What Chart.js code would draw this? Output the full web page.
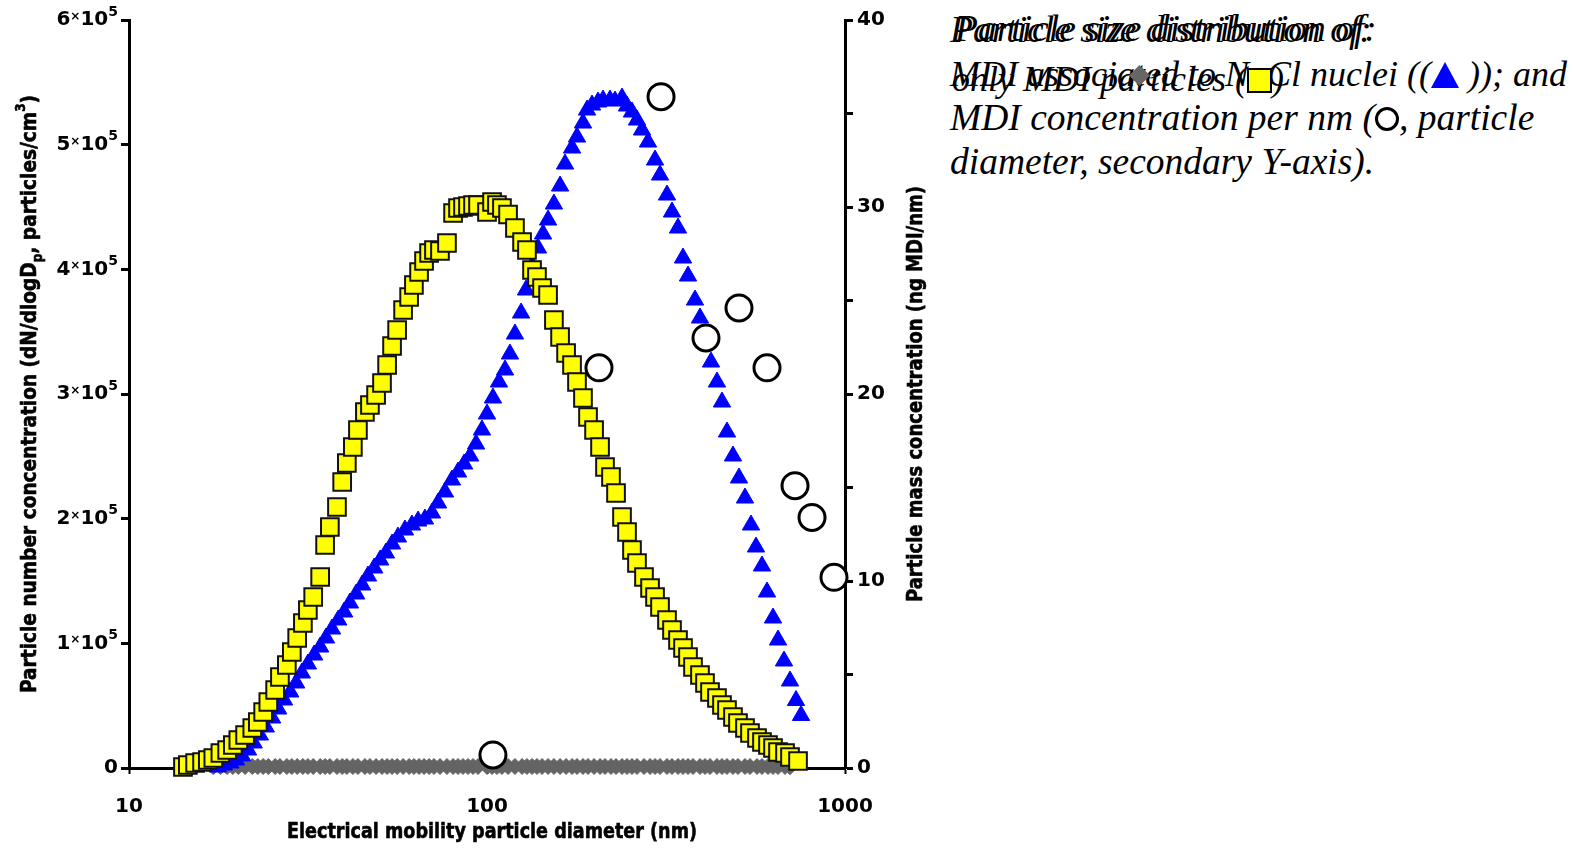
<!DOCTYPE html>
<html>
<head>
<meta charset="utf-8">
<script src="https://cdn.jsdelivr.net/npm/chart.js@4.4.1/dist/chart.umd.min.js"></script>
<style>
    body { margin: 0; background: #fff; width: 1573px; height: 849px; overflow: hidden; position: relative; }
    #wrap { position: absolute; left: 0; top: 0; width: 940px; height: 849px; }
    #caption {
        position: absolute; left: 950px; top: 8px;
        font-family: "Liberation Serif", "Times New Roman", serif;
        font-style: italic; font-size: 37.5px; line-height: 44px;
        color: #000; white-space: nowrap;
    }
    .line { position: relative; height: 44px; }
    .over { position: absolute; left: 0; top: 0; }
    .tri { display: inline-block; width: 0; height: 0; border-left: 14px solid transparent; border-right: 14px solid transparent; border-bottom: 26px solid #0000ff; vertical-align: -2px; }
    .sq { display: inline-block; width: 21px; height: 21px; background: #ffff00; border: 2px solid #000; vertical-align: -2px; }
    .circ { display: inline-block; width: 18px; height: 18px; border: 3px solid #000; border-radius: 50%; vertical-align: -1px; }
    .dia { position: absolute; width: 15px; height: 15px; background: #666; transform: rotate(45deg); }
</style>
</head>
<body>
<div id="wrap"><canvas id="psdChart" width="940" height="849"></canvas></div>

<div id="caption">
    <div class="line">
        <span class="over">Particle size distribution of:</span>
        <span class="over" style="left:5px; top:-1px;">Particle size distribution of:</span>
    </div>
    <div class="line" style="font-size:36px;">
        <span class="over">MDI associated to NaCl nuclei ((<span class="tri"></span> )); and</span>
        <span class="over" style="left:2px; top:5px;">only MDI particles (<span class="sq"></span>)</span>
        <span class="dia" style="left:182px; top:16px;"></span>
    </div>
    <div class="line">MDI concentration per nm (<span class="circ"></span>, particle</div>
    <div class="line">diameter, secondary Y-axis).</div>
</div>

<script>
// diameters (nm) of the SMPS channels
const onlyMdiDiam = [
    14.15, 14.6, 15.3, 16.0, 16.6, 17.2, 18.0, 18.8, 19.5, 20.2,
    21.1, 22.1, 22.9, 23.7, 24.5, 25.6, 26.4, 27.6, 28.5, 29.5,
    30.6, 31.6, 32.7, 34.2, 35.3, 36.4, 38.1, 39.4, 40.6, 42.2,
    43.6, 45.6, 47.1, 49.0, 50.9, 52.6, 54.3, 56.1, 58.3, 60.6,
    62.5, 64.6, 66.7, 68.9, 71.1, 73.9, 77.3, 80.4, 83.0, 85.7,
    88.5, 91.4, 94.4, 100.0, 103.3, 106.6, 110.1, 114.5, 119.7, 125.3,
    129.3, 133.6, 137.9, 142.5, 148.1, 153.8, 160.0, 166.3, 172.8, 178.4,
    185.4, 191.5, 199.1, 206.9, 213.6, 222.0, 229.3, 238.3, 246.1, 254.1,
    262.4, 274.5, 285.4, 294.7, 304.3, 318.3, 328.7, 341.6, 352.8, 364.3,
    376.2, 393.5, 406.4, 419.7, 438.9, 453.3, 468.1, 486.5, 502.4, 525.6,
    542.8, 567.8, 586.3, 609.4, 629.4, 650.0, 679.9, 702.1, 739.2
];
// only MDI particles, dN/dlogDp (particles/cm3)
const onlyMdi = [
    800, 2400, 4010, 4810, 6420, 8020, 12030, 14440, 18450, 22460,
    26470, 32080, 36890, 44920, 52940, 62560, 72990, 82620, 93040, 104270,
    116300, 126730, 137160, 153200, 178870, 193300, 209350, 229400, 244640, 257470,
    271110, 285550, 291160, 299180, 308810, 323250, 338490, 351320, 367360, 377790,
    387410, 397840, 406660, 413080, 415490, 414690, 421100, 445170, 449180, 449980,
    450780, 451580, 451580, 445970, 453990, 451580, 449180, 443980, 433130, 421910,
    415490, 399450, 393830, 385010, 379390, 359340, 345710, 332870, 323250, 309610,
    296780, 281540, 271110, 257470, 241430, 233410, 220580, 201330, 189300, 174860,
    164430, 153200, 144380, 137160, 129140, 118710, 110690, 102670, 96250, 89030,
    81010, 74600, 68180, 60960, 56150, 50530, 46520, 40910, 36090, 32080,
    28070, 24060, 20850, 18450, 16040, 12830, 12030, 8820, 5610
];

// MDI coated to NaCl nuclei, same channels from 17.2 nm to 702 nm
const naclDiam = onlyMdiDiam.slice(5, 108);
const naclMdi = [
    1000, 1200, 1200, 1200, 1200, 1200, 1200, 1200, 1200, 1200,
    1200, 1200, 1200, 1200, 1200, 1200, 1200, 1200, 1200, 1200,
    1200, 1200, 1200, 1200, 1200, 1200, 1200, 1200, 1200, 1200,
    1200, 1200, 1200, 1200, 1200, 1200, 1200, 1200, 1200, 1200,
    1200, 1200, 1200, 1200, 1200, 1200, 1200, 1200, 1200, 1200,
    1200, 1200, 1200, 1200, 1200, 1200, 1200, 1200, 1200, 1200,
    1200, 1200, 1200, 1200, 1200, 1200, 1200, 1200, 1200, 1200,
    1200, 1200, 1200, 1200, 1200, 1200, 1200, 1200, 1200, 1200,
    1200, 1200, 1200, 1200, 1200, 1200, 1200, 1200, 1200, 1200,
    1200, 1200, 1200, 1200, 1200, 1200, 1200, 1200, 1200, 1200,
    1200, 1200, 1000
];

// blue triangles
const triDiam = [
    17.7, 18.4, 19.2, 19.9, 20.7, 21.5, 22.3, 23.2, 24.1, 25.1,
    26.1, 27.1, 28.2, 29.3, 30.4, 31.6, 32.9, 34.2, 35.5, 36.9,
    38.4, 39.9, 41.4, 43.1, 44.8, 46.5, 48.4, 50.3, 52.2, 54.3,
    56.4, 59.0, 61.7, 64.2, 67.1, 70.2, 73.0, 76.3, 79.8, 83.0,
    86.3, 89.7, 93.2, 96.8, 100.0, 103.9, 108.0, 112.3, 115.9, 119.7,
    124.5, 128.5, 133.6, 138.8, 143.4, 148.1, 153.8, 160.0, 165.2, 172.8,
    178.4, 185.4, 190.3, 196.5, 204.2, 210.9, 220.6, 227.8, 238.3, 246.1,
    254.1, 262.4, 271.0, 281.7, 294.7, 304.3, 318.3, 328.7, 341.6, 352.8,
    364.3, 381.1, 393.5, 406.4, 422.4, 438.9, 453.3, 468.1, 486.5, 505.7,
    525.6, 546.3, 564.2, 586.3, 605.5, 629.4, 650.0, 675.5, 702.1, 729.8,
    753.7
];
const triValues = [
    800, 2410, 4010, 6420, 9630, 14440, 20050, 26470, 32880, 40110,
    47320, 54540, 60960, 68180, 76200, 83420, 90640, 97050, 104270, 111490,
    118710, 125130, 132350, 139570, 146780, 154000, 160420, 166840, 172450, 179670,
    185290, 190900, 194910, 198120, 199720, 204540, 212560, 221380, 231000, 237420,
    243840, 250260, 259880, 271110, 283940, 296780, 309610, 319240, 332070, 348110,
    364960, 383400, 402650, 417090, 428320, 439550, 452380, 466820, 484470, 497300,
    506130, 517350, 527780, 531790, 534200, 535800, 535800, 535000, 537410, 531000,
    526180, 519760, 511740, 502110, 487680, 475650, 459600, 445970, 433130, 409070,
    394630, 375380, 360950, 343300, 325650, 309610, 293570, 269510, 250260, 232610,
    216560, 194910, 177270, 162020, 141170, 120310, 102670, 85830, 69800, 54150,
    42120
];

// MDI concentration per nm (ng MDI/nm), secondary axis
const perNmDiam = [103.9, 205.5, 306.3, 409.0, 505.7, 605.5, 725.1, 808.9, 931.7];
const perNmValues = [0.7, 21.4, 35.9, 23.0, 24.6, 21.4, 15.1, 13.4, 10.2];

const xTickValues = [10, 100, 1000];
const leftTickMantissa = ['0', '1', '2', '3', '4', '5', '6'];
const leftTickExponent = '5';
const rightTickLabels = ['0', '10', '20', '30', '40'];

function toPoints(xs, ys) {
    return xs.map((x, i) => ({ x: x, y: ys[i] }));
}

const FAMILY = '"DejaVu Sans", Verdana, sans-serif';

// draws a bold title made of pieces (sub/superscripts), squeezed to fit the given length
function drawTitle(ctx, parts, cx, cy, angle, length, fontSize) {
    const measure = (size) => parts.reduce((w, p) => {
        ctx.font = 'bold ' + (size * (p.scale || 1)) + 'px ' + FAMILY;
        return w + ctx.measureText(p.text).width;
    }, 0);
    const natural = measure(fontSize);
    const squeeze = length / natural;
    ctx.save();
    ctx.translate(cx, cy);
    ctx.rotate(angle);
    ctx.scale(squeeze, 1);
    ctx.fillStyle = '#000';
    ctx.strokeStyle = '#000';
    ctx.lineWidth = 0.6;
    ctx.textAlign = 'left';
    ctx.textBaseline = 'middle';
    let x = -natural / 2;
    parts.forEach(p => {
        ctx.font = 'bold ' + (fontSize * (p.scale || 1)) + 'px ' + FAMILY;
        ctx.fillText(p.text, x, (p.dy || 0) * fontSize);
        ctx.strokeText(p.text, x, (p.dy || 0) * fontSize);
        x += ctx.measureText(p.text).width;
    });
    ctx.restore();
}

const axisTitles = {
    id: 'axisTitles',
    afterDraw(chart) {
        const { ctx, chartArea } = chart;
        const midY = (chartArea.top + chartArea.bottom) / 2;
        drawTitle(ctx, [
            { text: 'Particle number concentration (dN/dlogD' },
            { text: 'p', scale: 0.65, dy: 0.35 },
            { text: ', particles/cm' },
            { text: '3', scale: 0.65, dy: -0.45 },
            { text: ')' }
        ], 31, midY, -Math.PI / 2, 598, 21);
        drawTitle(ctx, [{ text: 'Particle mass concentration (ng MDI/nm)' }], 917, midY, -Math.PI / 2, 416, 21);
        drawTitle(ctx, [{ text: 'Electrical mobility particle diameter (nm)' }], 492, 833, 0, 410, 21);
    }
};

// left tick labels written as  n×10^5  with a small raised × and exponent
const leftTickText = {
    id: 'leftTickText',
    afterDraw(chart) {
        const { ctx } = chart;
        const scale = chart.scales.y;
        const right = scale.right - 11;
        ctx.save();
        ctx.fillStyle = '#000';
        ctx.textBaseline = 'middle';
        ctx.textAlign = 'left';
        leftTickMantissa.forEach((m, i) => {
            const y = scale.getPixelForValue(i * 100000);
            const parts = m === '0'
                ? [{ t: '0', s: 20, dy: 0 }]
                : [{ t: m, s: 20, dy: 0 }, { t: '×', s: 12, dy: -3 }, { t: '10', s: 20, dy: 0 }, { t: leftTickExponent, s: 14, dy: -8 }];
            let w = 0;
            parts.forEach(p => { ctx.font = 'bold ' + p.s + 'px ' + FAMILY; w += ctx.measureText(p.t).width; });
            let x = right - w;
            parts.forEach(p => {
                ctx.font = 'bold ' + p.s + 'px ' + FAMILY;
                ctx.fillText(p.t, x, y + p.dy);
                x += ctx.measureText(p.t).width;
            });
        });
        ctx.restore();
    }
};

new Chart(document.getElementById('psdChart').getContext('2d'), {
    type: 'scatter',
    data: {
        datasets: [
            {
                label: 'MDI concentration per nm',
                data: toPoints(perNmDiam, perNmValues),
                yAxisID: 'y1',
                order: 0,
                pointStyle: 'circle',
                pointRadius: 13,
                borderWidth: 3,
                borderColor: '#000',
                backgroundColor: '#fff',
                clip: false
            },
            {
                label: 'only MDI particles',
                data: toPoints(onlyMdiDiam, onlyMdi),
                yAxisID: 'y',
                order: 1,
                pointStyle: 'rect',
                pointRadius: 12.5,
                borderWidth: 2,
                borderColor: '#111',
                backgroundColor: '#ffff00',
                clip: false
            },
            {
                label: 'MDI mass',
                data: toPoints(triDiam, triValues),
                yAxisID: 'y',
                order: 2,
                pointStyle: 'triangle',
                pointRadius: 10,
                borderWidth: 1,
                borderColor: '#0000ff',
                backgroundColor: '#0000ff',
                clip: false
            },
            {
                label: 'MDI coated to NaCl nuclei',
                data: toPoints(naclDiam, naclMdi),
                yAxisID: 'y',
                order: 3,
                pointStyle: 'rectRot',
                pointRadius: 8,
                borderWidth: 1,
                borderColor: '#646464',
                backgroundColor: '#646464',
                clip: false
            }
        ]
    },
    options: {
        responsive: false,
        animation: false,
        devicePixelRatio: 1,
        layout: { padding: { top: 20, left: 0, right: 0, bottom: 0 } },
        plugins: {
            legend: { display: false },
            tooltip: { enabled: false },
            title: { display: false }
        },
        scales: {
            x: {
                type: 'logarithmic',
                min: 10,
                max: 1000,
                z: 1,
                afterBuildTicks: (scale) => { scale.ticks = xTickValues.map(v => ({ value: v })); },
                afterFit: (scale) => { scale.height = 81; },
                border: { display: true, color: '#000', width: 3 },
                grid: { drawOnChartArea: false, drawTicks: true, tickLength: 6, tickWidth: 2, tickColor: '#000' },
                ticks: {
                    autoSkip: false,
                    maxRotation: 0,
                    padding: 21,
                    color: '#000',
                    font: { family: FAMILY, size: 20, weight: 'bold' },
                    callback: (value) => String(value)
                }
            },
            y: {
                type: 'linear',
                position: 'left',
                min: 0,
                max: 600000,
                afterFit: (scale) => { scale.width = 129; },
                border: { display: true, color: '#000', width: 3 },
                grid: { drawOnChartArea: false, drawTicks: true, tickLength: 8, tickWidth: 3, tickColor: '#000' },
                ticks: {
                    stepSize: 100000,
                    padding: 3,
                    // labels are drawn by the leftTickText plugin
                    callback: () => ''
                }
            },
            y1: {
                type: 'linear',
                position: 'right',
                min: 0,
                max: 40,
                afterFit: (scale) => { scale.width = 95; },
                border: { display: true, color: '#000', width: 3 },
                grid: { drawOnChartArea: false, drawTicks: true, tickLength: 8, tickWidth: 3, tickColor: '#000' },
                ticks: {
                    stepSize: 5,
                    padding: 4,
                    color: '#000',
                    font: { family: FAMILY, size: 20, weight: 'bold' },
                    callback: (value) => (value % 10 === 0 ? rightTickLabels[value / 10] : '')
                }
            }
        }
    },
    plugins: [axisTitles, leftTickText]
});
</script>
</body>
</html>
